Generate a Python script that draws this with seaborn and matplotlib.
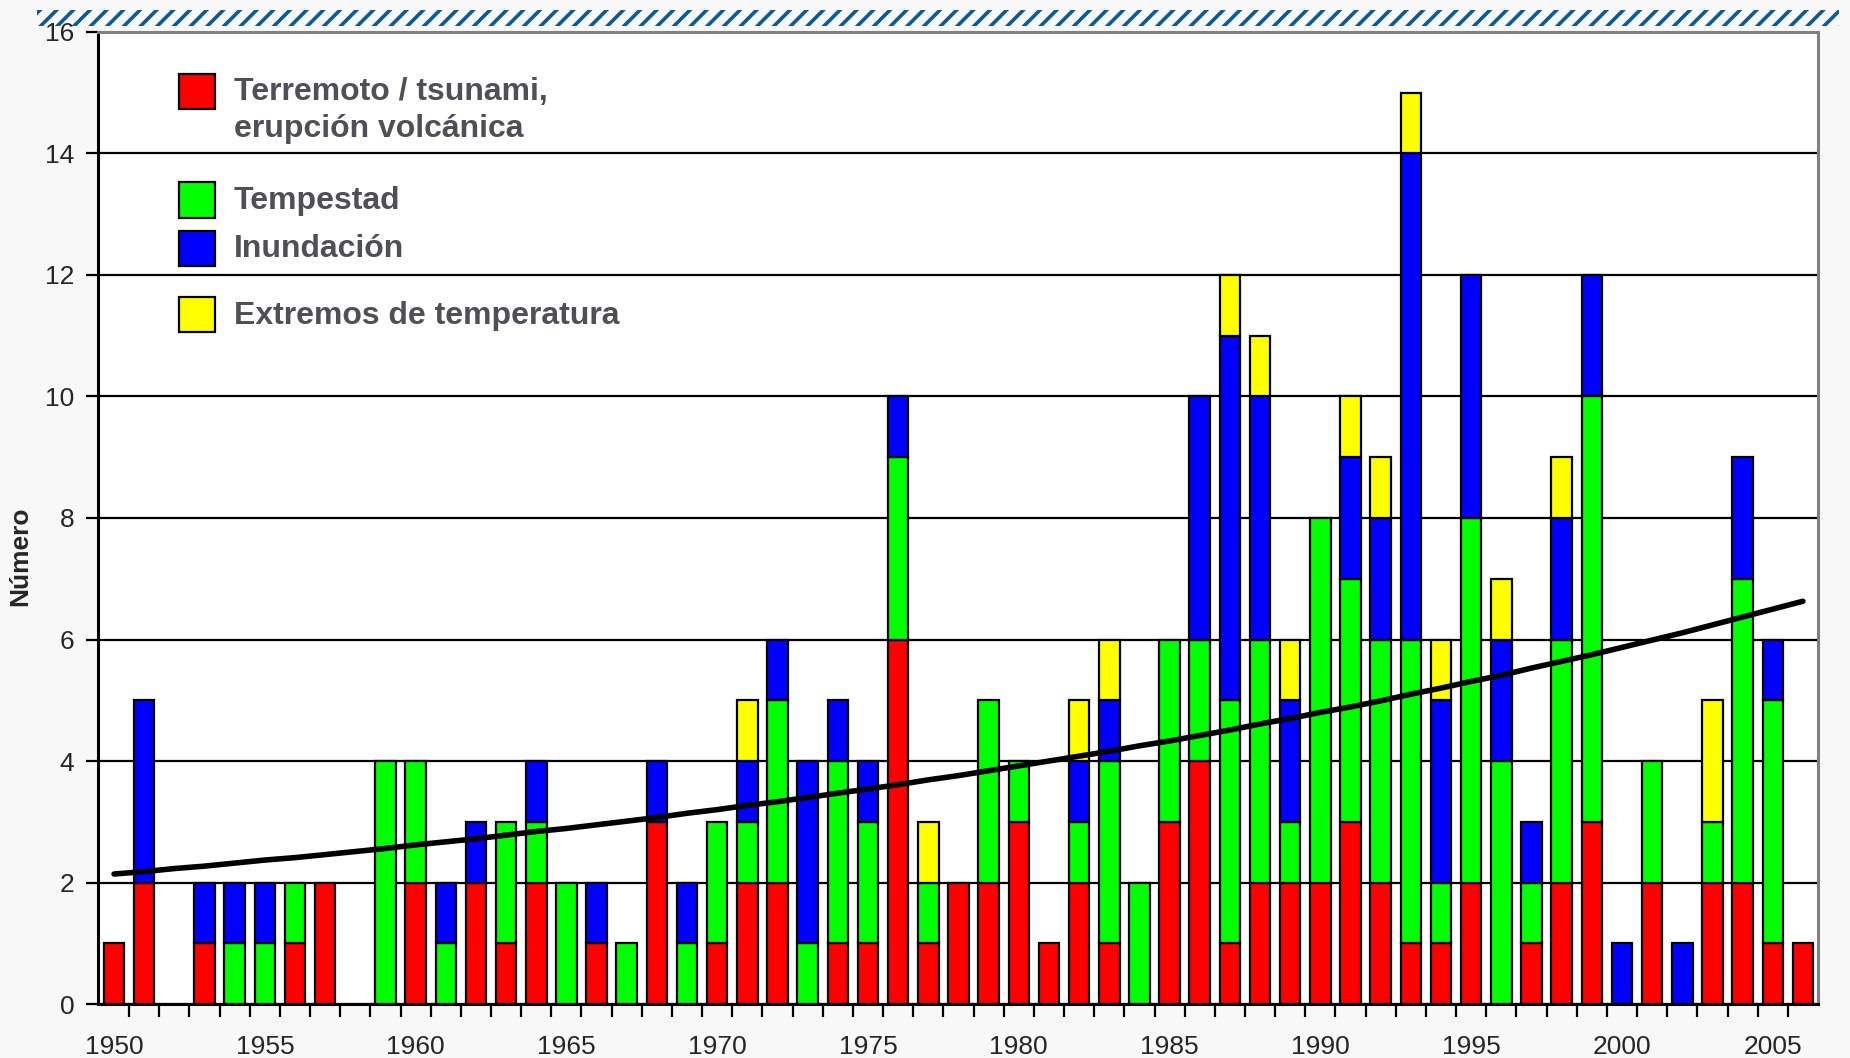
import numpy as np
import pandas as pd
import matplotlib
matplotlib.use("Agg")
import matplotlib.pyplot as plt
import seaborn as sns
from matplotlib.patches import Rectangle
from matplotlib.ticker import MultipleLocator, FixedLocator

# events per year
years = list(range(1950, 2007))
terremoto = [1, 2, 0, 1, 0, 0, 1, 2, 0, 0, 2, 0, 2, 1, 2, 0, 1, 0, 3, 0,
             1, 2, 2, 0, 1, 1, 6, 1, 2, 2, 3, 1, 2, 1, 0, 3, 4, 1, 2, 2,
             2, 3, 2, 1, 1, 2, 0, 1, 2, 3, 0, 2, 0, 2, 2, 1, 1]
tempestad = [0, 0, 0, 0, 1, 1, 1, 0, 0, 4, 2, 1, 0, 2, 1, 2, 0, 1, 0, 1,
             2, 1, 3, 1, 3, 2, 3, 1, 0, 3, 1, 0, 1, 3, 2, 3, 2, 4, 4, 1,
             6, 4, 4, 5, 1, 6, 4, 1, 4, 7, 0, 2, 0, 1, 5, 4, 0]
inundacion = [0, 3, 0, 1, 1, 1, 0, 0, 0, 0, 0, 1, 1, 0, 1, 0, 1, 0, 1, 1,
              0, 1, 1, 3, 1, 1, 1, 0, 0, 0, 0, 0, 1, 1, 0, 0, 4, 6, 4, 2,
              0, 2, 2, 8, 3, 4, 2, 1, 2, 2, 1, 0, 1, 0, 2, 1, 0]
temperatura = [0, 0, 0, 0, 0, 0, 0, 0, 0, 0, 0, 0, 0, 0, 0, 0, 0, 0, 0, 0,
               0, 1, 0, 0, 0, 0, 0, 1, 0, 0, 0, 0, 1, 1, 0, 0, 0, 1, 1, 1,
               0, 1, 1, 1, 1, 0, 1, 0, 1, 0, 0, 0, 0, 2, 0, 0, 0]
# trend line as drawn on the chart
tendencia = [2.14, 2.18, 2.23, 2.27, 2.32, 2.37, 2.41, 2.46, 2.51, 2.56,
             2.62, 2.67, 2.72, 2.78, 2.84, 2.89, 2.95, 3.01, 3.07, 3.14,
             3.20, 3.27, 3.33, 3.40, 3.47, 3.54, 3.61, 3.69, 3.76, 3.84,
             3.92, 4.00, 4.08, 4.16, 4.25, 4.33, 4.42, 4.51, 4.61, 4.70,
             4.80, 4.89, 4.99, 5.10, 5.20, 5.31, 5.41, 5.53, 5.64, 5.75,
             5.87, 5.99, 6.11, 6.24, 6.37, 6.50, 6.63]

series = [
    ("Terremoto / tsunami,\nerupción volcánica", terremoto, "#ff0000"),
    ("Tempestad", tempestad, "#00ff00"),
    ("Inundación", inundacion, "#0000ff"),
    ("Extremos de temperatura", temperatura, "#ffff00"),
]

sns.set_style("white")
plt.rcParams["font.family"] = ["Liberation Sans", "DejaVu Sans"]
plt.rcParams["hatch.linewidth"] = 2.6

df = pd.DataFrame({"year": years, "trend": tendencia})

fig = plt.figure(figsize=(18.5, 10.58), dpi=100, facecolor="#f8f8f8")
ax = fig.add_axes([0.053, 0.051, 0.9297, 0.9188])
ax.set_facecolor("white")

# hatched band across the top
band = Rectangle((0.02, 0.9755), 0.974, 0.0155, transform=fig.transFigure,
                 facecolor="none", edgecolor="#0a5a9c", hatch="//",
                 linewidth=0)
fig.patches.append(band)

bottom = np.zeros(len(years))
yrs = np.array(years)
for label, vals, color in series:
    vals = np.array(vals, dtype=float)
    keep = vals > 0
    ax.bar(yrs[keep], vals[keep], bottom=bottom[keep], width=0.68,
           color=color, edgecolor="black", linewidth=1.6, zorder=3)
    bottom += vals

sns.lineplot(data=df, x="year", y="trend", color="black", linewidth=4,
             ax=ax, zorder=4)

ax.set_xlim(1949.47, 2006.5)
ax.set_ylim(0, 16)
ax.yaxis.set_major_locator(MultipleLocator(2))
ax.grid(axis="y", color="black", linewidth=1.6, zorder=0)
ax.grid(axis="x", visible=False)
ax.set_axisbelow(True)

ax.xaxis.set_major_locator(FixedLocator(list(range(1950, 2006, 5))))
ax.xaxis.set_minor_locator(FixedLocator([y + 0.5 for y in years[:-1]]))
ax.tick_params(axis="x", which="major", length=0, pad=22, labelsize=19)
ax.tick_params(axis="x", which="minor", length=9, width=1.6, direction="out",
               bottom=True, color="black")
ax.tick_params(axis="y", which="major", length=9, width=1.6, direction="out",
               left=True, labelsize=19, pad=8, color="black")

for side in ["left", "bottom"]:
    ax.spines[side].set_color("black")
    ax.spines[side].set_linewidth(2.2)
for side in ["top", "right"]:
    ax.spines[side].set_color("#808080")
    ax.spines[side].set_linewidth(2.2)

ax.set_xlabel("")
ax.set_ylabel("Número", fontsize=19, fontweight="bold")
ax.yaxis.set_label_coords(-0.0384, 0.461)

# legend drawn by hand to keep the uneven spacing
square_rows = [0.9296, 0.818, 0.768, 0.700]
text_rows = [0.892, 0.818, 0.768, 0.700]
sq_w, sq_h = 0.0206, 0.0364
for (label, vals, color), ys, yt in zip(series, square_rows, text_rows):
    ax.add_patch(Rectangle((0.0473, ys - 0.009), sq_w, sq_h,
                           transform=ax.transAxes, facecolor=color,
                           edgecolor="black", linewidth=1.6, zorder=6))
    ax.text(0.0789, yt, label, transform=ax.transAxes, fontsize=23,
            fontweight="bold", color="#4f4f57", va="baseline", ha="left",
            linespacing=1.3, zorder=6)

fig.savefig("out.png", dpi=100, facecolor=fig.get_facecolor())
